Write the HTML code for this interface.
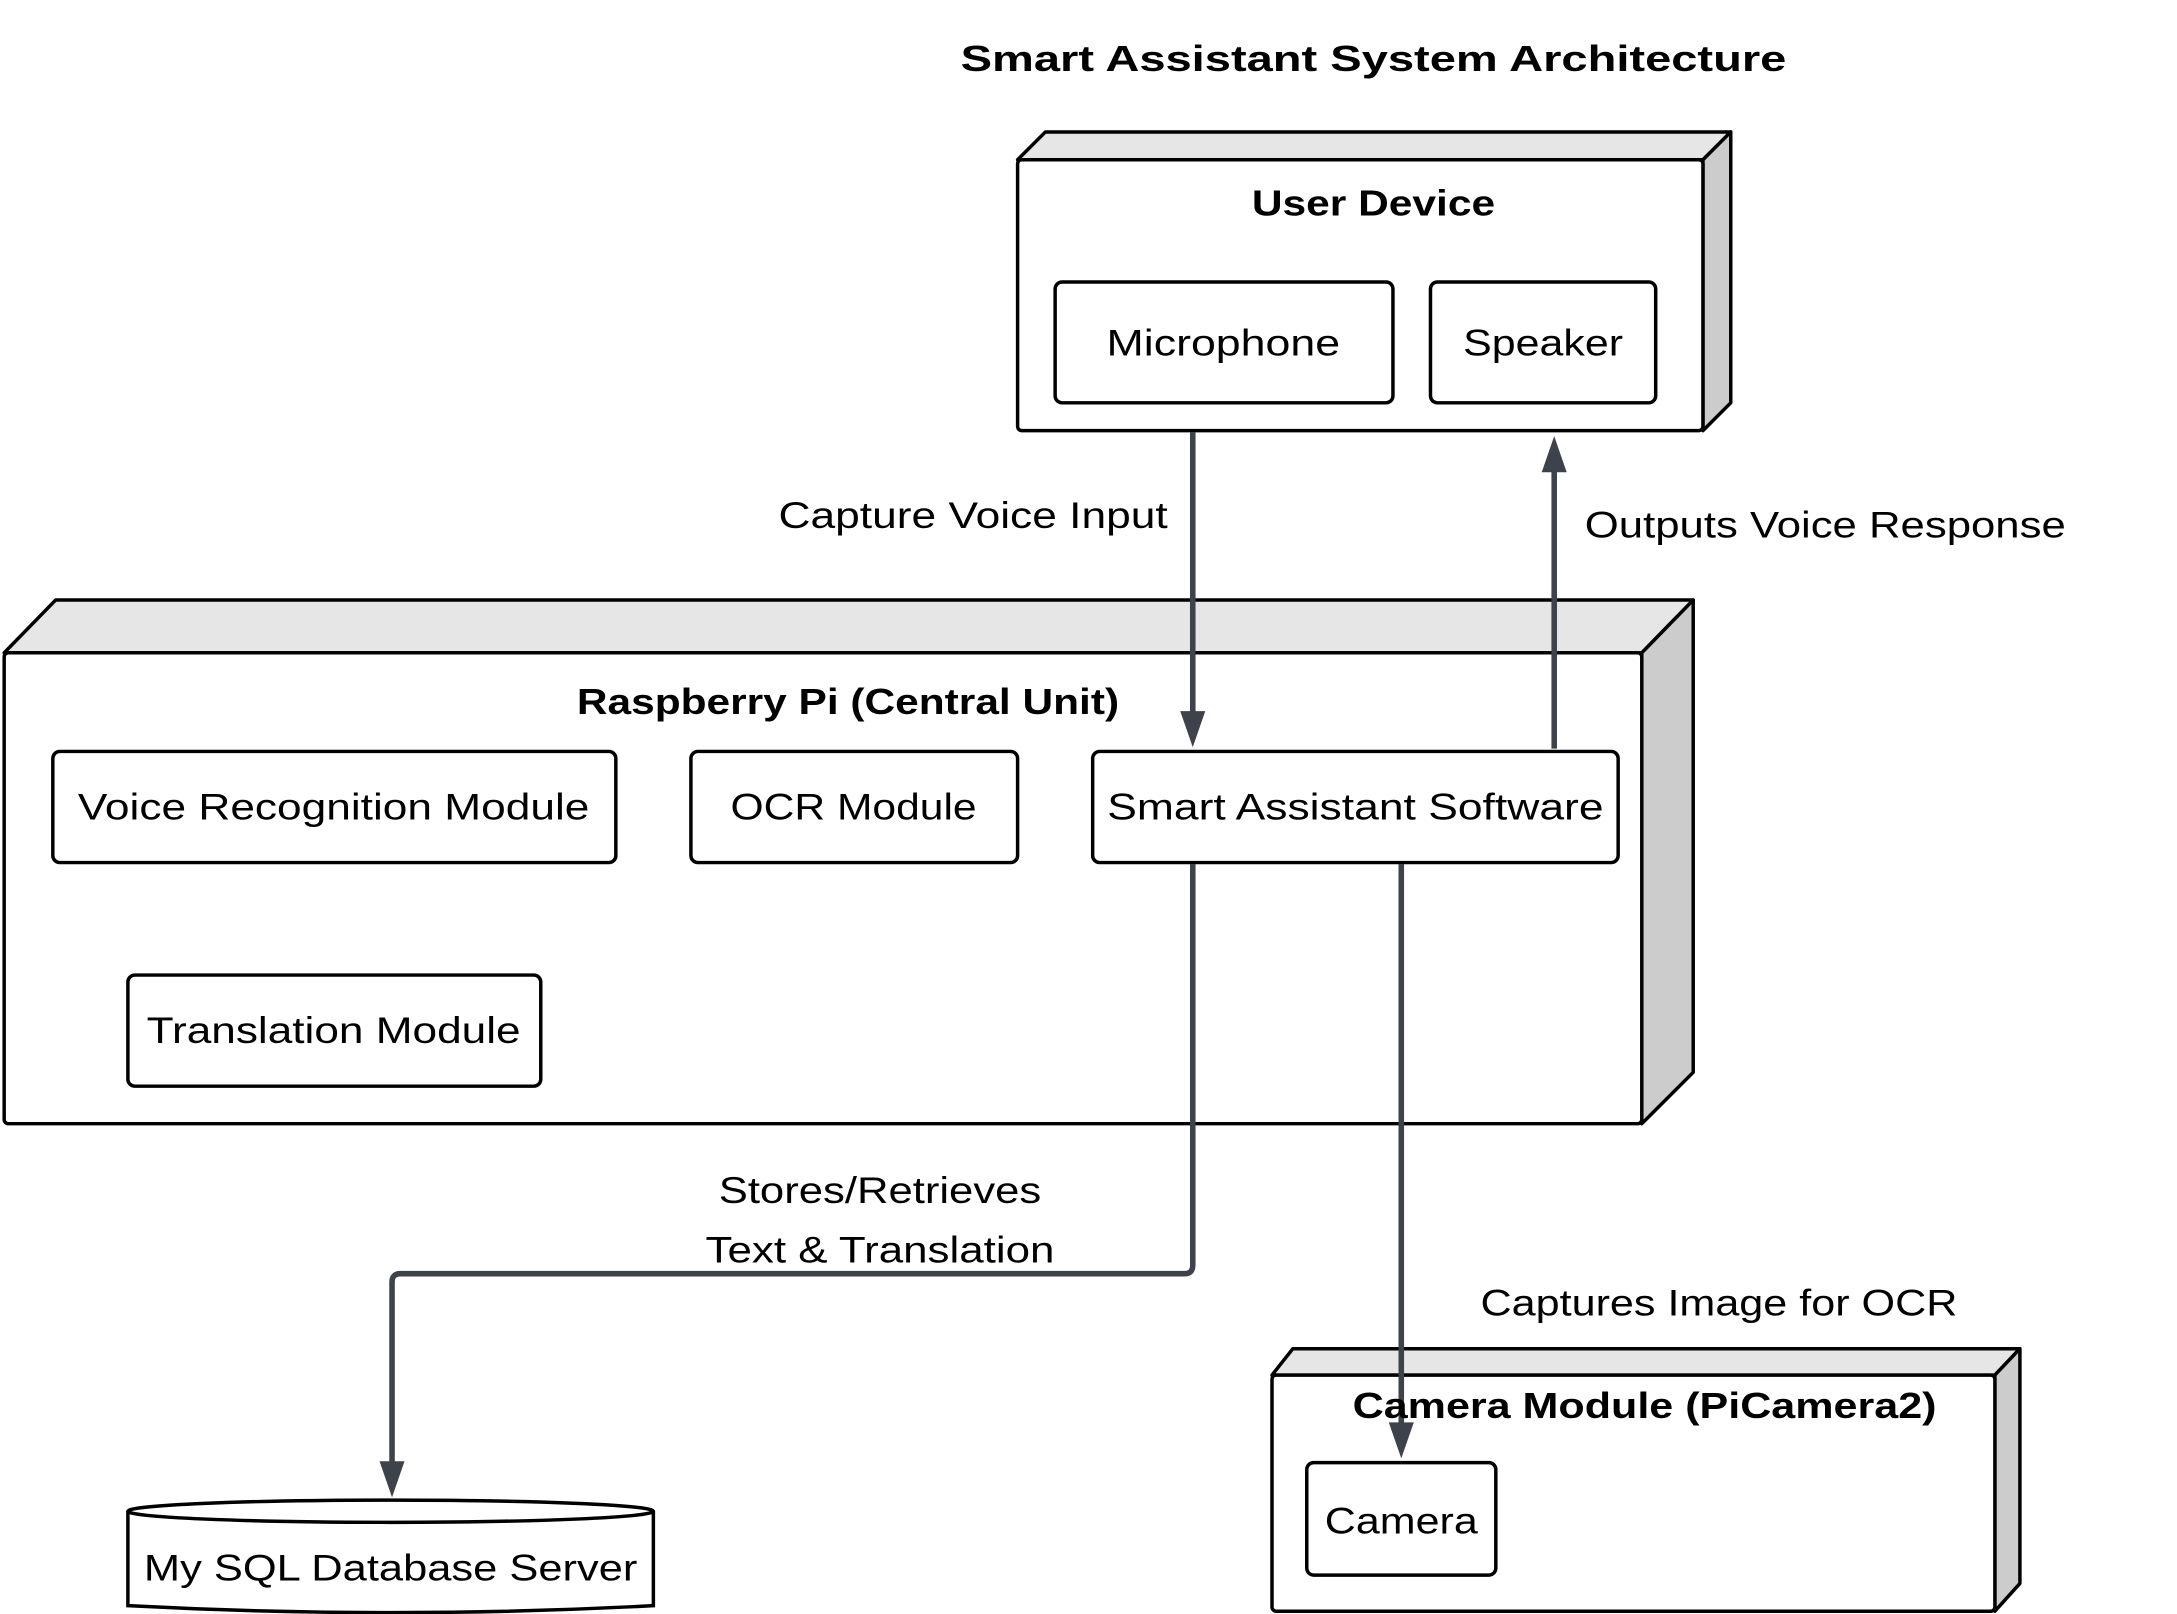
<!DOCTYPE html>
<html><head><meta charset="utf-8"><style>
html,body{margin:0;padding:0;background:#fff;}
svg{display:block;}
text{font-family:"Liberation Sans",sans-serif;fill:#000;}
.t{font-size:27px;}
.b{font-size:26px;font-weight:bold;}
.box{fill:#fff;stroke:#000;stroke-width:2.5;}
.top{fill:#e6e6e6;stroke:#000;stroke-width:2.5;stroke-linejoin:round;}
.side{fill:#cccccc;stroke:#000;stroke-width:2.5;stroke-linejoin:round;}
.ln{fill:none;stroke:#3d424b;stroke-width:4;}
.ah{fill:#3d424b;}
</style></head><body>
<svg width="2177" height="1614" viewBox="0 0 1566 1162" preserveAspectRatio="none" xmlns="http://www.w3.org/2000/svg">
<text class="b" x="988" y="51" text-anchor="middle" font-size="27" textLength="594" lengthAdjust="spacingAndGlyphs">Smart Assistant System Architecture</text>

<path class="top" d="M732,115 L752,95 L1245,95 L1225,115 Z"/>
<path class="side" d="M1225,115 L1245,95 L1245,290 L1225,310 Z"/>
<rect class="box" x="732" y="115" width="493" height="195" rx="3"/>
<text class="b" x="988" y="155" text-anchor="middle" textLength="175" lengthAdjust="spacingAndGlyphs">User Device</text>
<rect class="box" x="759" y="203" width="243" height="87" rx="5"/>
<text class="t" x="880" y="256" text-anchor="middle" textLength="168" lengthAdjust="spacingAndGlyphs">Microphone</text>
<rect class="box" x="1029" y="203" width="162" height="87" rx="5"/>
<text class="t" x="1110" y="256" text-anchor="middle" textLength="115" lengthAdjust="spacingAndGlyphs">Speaker</text>

<path class="top" d="M3,470 L40,432 L1218,432 L1181,470 Z"/>
<path class="side" d="M1181,470 L1218,432 L1218,772 L1181,809 Z"/>
<rect class="box" x="3" y="470" width="1178" height="339" rx="3"/>
<text class="b" x="610" y="514" text-anchor="middle" textLength="390" lengthAdjust="spacingAndGlyphs">Raspberry Pi (Central Unit)</text>
<rect class="box" x="38" y="541" width="405" height="80" rx="5"/>
<text class="t" x="240" y="590" text-anchor="middle" textLength="368" lengthAdjust="spacingAndGlyphs">Voice Recognition Module</text>
<rect class="box" x="497" y="541" width="235" height="80" rx="5"/>
<text class="t" x="614" y="590" text-anchor="middle" textLength="177" lengthAdjust="spacingAndGlyphs">OCR Module</text>
<rect class="box" x="786" y="541" width="378" height="80" rx="5"/>
<text class="t" x="975" y="590" text-anchor="middle" textLength="357" lengthAdjust="spacingAndGlyphs">Smart Assistant Software</text>
<rect class="box" x="92" y="702" width="297" height="80" rx="5"/>
<text class="t" x="240" y="751" text-anchor="middle" textLength="269" lengthAdjust="spacingAndGlyphs">Translation Module</text>

<path class="top" d="M915,990 L930,971 L1453,971 L1435,990 Z"/>
<path class="side" d="M1435,990 L1453,971 L1453,1140 L1435,1160 Z"/>
<rect class="box" x="915" y="990" width="520" height="170" rx="3"/>
<rect class="box" x="940" y="1053" width="136" height="81" rx="5"/>
<text class="t" x="1008" y="1104" text-anchor="middle" textLength="110" lengthAdjust="spacingAndGlyphs">Camera</text>

<path class="box" d="M92,1088 L92,1156 Q281,1166 470,1156 L470,1088"/>
<ellipse class="box" cx="281" cy="1088" rx="189" ry="8"/>
<text class="t" x="281" y="1138" text-anchor="middle" textLength="355" lengthAdjust="spacingAndGlyphs">My SQL Database Server</text>

<path class="ln" d="M858,311 L858,518"/>
<polygon class="ah" points="849,512 867,512 858,538"/>
<path class="ln" d="M1118,539 L1118,334"/>
<polygon class="ah" points="1109,340 1127,340 1118,314"/>
<path class="ln" d="M858,622 L858,911 Q858,917 852,917 L288,917 Q282,917 282,923 L282,1058"/>
<polygon class="ah" points="273,1052 291,1052 282,1078"/>
<path class="ln" d="M1008,622 L1008,1030"/>
<polygon class="ah" points="999,1024 1017,1024 1008,1050"/>

<text class="b" x="1183" y="1021" text-anchor="middle" textLength="420" lengthAdjust="spacingAndGlyphs">Camera Module (PiCamera2)</text>

<text class="t" x="840" y="380" text-anchor="end" textLength="280" lengthAdjust="spacingAndGlyphs">Capture Voice Input</text>
<text class="t" x="1140" y="387" textLength="346" lengthAdjust="spacingAndGlyphs">Outputs Voice Response</text>
<text class="t" x="633" y="866" text-anchor="middle" textLength="232" lengthAdjust="spacingAndGlyphs">Stores/Retrieves</text>
<text class="t" x="633" y="909" text-anchor="middle" textLength="251" lengthAdjust="spacingAndGlyphs">Text &amp; Translation</text>
<text class="t" x="1065" y="947" textLength="343" lengthAdjust="spacingAndGlyphs">Captures Image for OCR</text>
</svg>
</body></html>
